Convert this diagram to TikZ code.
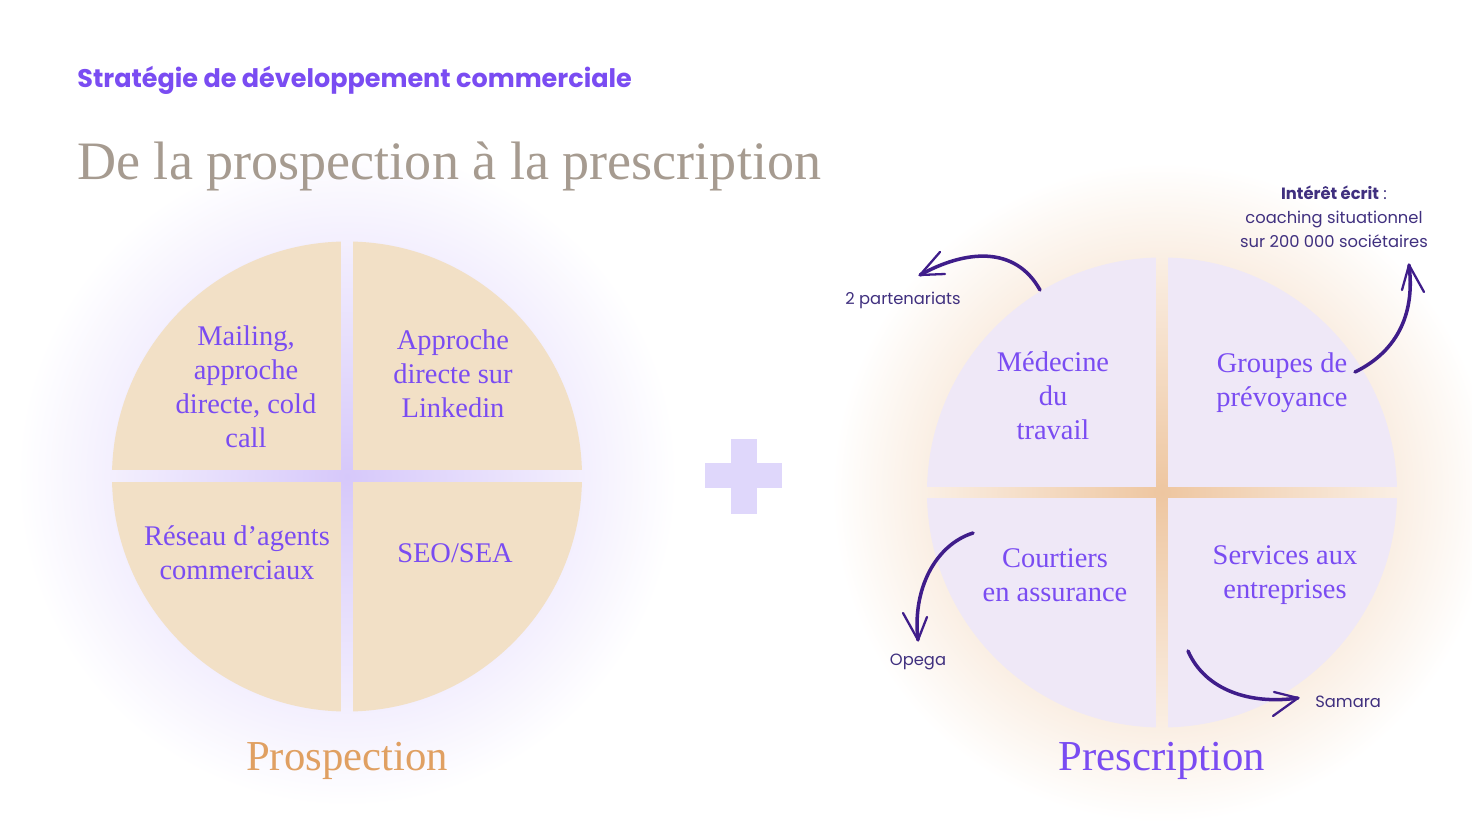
\documentclass[tikz,border=0pt]{standalone}
\usepackage{fontspec}
\setmainfont{Liberation Serif}
\newfontfamily\sansfont{Poppins}
\usepackage{xcolor}
\usetikzlibrary{positioning}

\definecolor{accent}{HTML}{7A4CF2}
\definecolor{ink}{HTML}{40307F}
\definecolor{brush}{HTML}{3F1D8A}
\definecolor{greytitle}{HTML}{A69B90}
\definecolor{beige}{HTML}{F2E0C6}
\definecolor{lilac}{HTML}{EFE8F7}
\definecolor{lilacglow}{HTML}{D6C8FA}
\definecolor{peachglow}{HTML}{EEC6A0}
\definecolor{plusfill}{HTML}{DFD7FB}
\definecolor{orangelabel}{HTML}{E0A062}

% 25bp is the rim of the shaded circle
\pgfdeclareradialshading{glowlilac}{\pgfpoint{0bp}{0bp}}{color(0bp)=(lilacglow); color(25bp)=(white); color(50bp)=(white)}
\pgfdeclareradialshading{glowpeach}{\pgfpoint{0bp}{0bp}}{color(0bp)=(peachglow); color(25bp)=(white); color(50bp)=(white)}

\tikzset{
  quadtext/.style={text=accent, align=center, font=\fontsize{16.2}{19.3}\selectfont, inner sep=0pt},
  note/.style={text=ink, align=center, font=\sansfont\fontsize{9.3}{13.6}\selectfont, inner sep=0pt},
  stroke/.style={draw=brush, line width=2pt, line cap=round},
  barb/.style={draw=brush, line width=1.3pt, line cap=round, line join=round},
}

\begin{document}
\begin{tikzpicture}[x=0.02cm, y=-0.02cm]
    \useasboundingbox (0,0) rectangle (1472,824);
    \fill[white] (0,0) rectangle (1472,824);

    % soft glows behind the two circles
    \shade[shading=glowlilac] (347,476.5) circle (330);
    \shade[shading=glowpeach] (1162,492.5) circle (330);

    % left circle, four quarters
    \begin{scope}
        \clip (347,476.5) circle (235);
        \fill[beige] (100,230) rectangle (341,470.5);
        \fill[beige] (353,230) rectangle (600,470.5);
        \fill[beige] (100,482.5) rectangle (341,720);
        \fill[beige] (353,482.5) rectangle (600,720);
    \end{scope}

    % right circle, four quarters
    \begin{scope}
        \clip (1162,492.5) circle (235);
        \fill[lilac] (920,250) rectangle (1156,487);
        \fill[lilac] (1168,250) rectangle (1410,487);
        \fill[lilac] (920,498) rectangle (1156,735);
        \fill[lilac] (1168,498) rectangle (1410,735);
    \end{scope}

    % plus
    \fill[plusfill] (705,463) rectangle (782,488);
    \fill[plusfill] (731,439) rectangle (757,514);

    % titles
    \node[anchor=base west, inner sep=0pt, text=accent, font=\sansfont\bfseries\fontsize{14.5}{17}\selectfont] (head) at (77,88) {Stratégie de développement commerciale};
    \node[anchor=base west, inner sep=0pt, text=greytitle, font=\fontsize{30.8}{36}\selectfont] (title) at (77,180) {De la prospection à la prescription};

    % left quarters
    \node[quadtext] (mailing) at (246,387) {Mailing,\\approche\\directe, cold\\call};
    \node[quadtext] (linkedin) at (453,374) {Approche\\directe sur\\Linkedin};
    \node[quadtext] (reseau) at (237,553) {Réseau d’agents\\commerciaux};
    \node[quadtext] (seo) at (455,553) {SEO/SEA};

    % right quarters
    \node[quadtext] (medecine) at (1053,396) {Médecine\\du\\travail};
    \node[quadtext] (groupes) at (1282,383) {Groupes de\\prévoyance};
    \node[quadtext] (courtiers) at (1055,575) {Courtiers\\en assurance};
    \node[quadtext] (services) at (1285,575) {Services aux\\entreprises};

    % bottom labels
    \node[anchor=base, inner sep=0pt, text=orangelabel, font=\fontsize{24.3}{28}\selectfont] (prosp) at (347,770) {Prospection};
    \node[anchor=base, inner sep=0pt, text=accent, font=\fontsize{24.3}{28}\selectfont] (presc) at (1162,770) {Prescription};

    % notes
    \node[note] (partenariats) at (903,300) {2 partenariats};
    \node[note] (interet) at (1334,217) {{\bfseries Intérêt écrit} :\\coaching situationnel\\sur 200 000 sociétaires};
    \node[note] (opega) at (918,662) {Opega};
    \node[note, anchor=west] (samara) at (1315,702) {Samara};

    % arrow ends
    \coordinate (medTail) at (1040,290);
    \coordinate (partTip) at (920,275);
    \coordinate (grpTail) at (1355,372);
    \coordinate (intTip) at (1409,265);
    \coordinate (courTail) at (973,533);
    \coordinate (opeTip) at (918,640);
    \coordinate (servTail) at (1188,651);
    \coordinate (samTip) at (1298,698);

    % hand drawn arrows
    \draw[stroke] (medTail) .. controls (1015,245) and (965,250) .. (partTip);
    \draw[barb] (940,252) -- (partTip) -- (945,274);
    \draw[stroke] (grpTail) .. controls (1400,350) and (1415,310) .. (intTip);
    \draw[barb] (1402,290) -- (intTip) -- (1424,292);
    \draw[stroke] (courTail) .. controls (935,545) and (912,590) .. (opeTip);
    \draw[barb] (903,613) -- (opeTip) -- (927,617);
    \draw[stroke] (servTail) .. controls (1205,690) and (1250,705) .. (samTip);
    \draw[barb] (1274,692) -- (samTip) -- (1273,716);
\end{tikzpicture}
\end{document}
